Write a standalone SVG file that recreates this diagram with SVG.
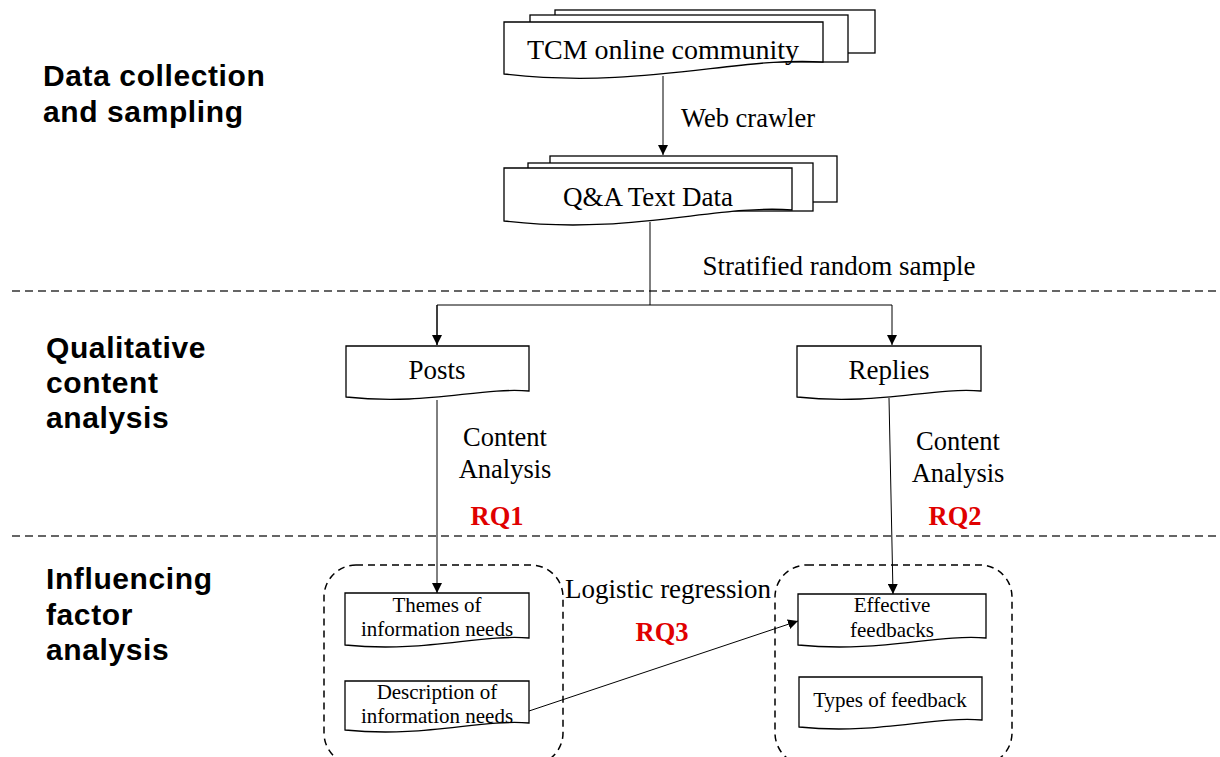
<svg xmlns="http://www.w3.org/2000/svg" width="1220" height="757" viewBox="0 0 1220 757">
<defs>
<marker id="arr" viewBox="0 0 10 10" refX="10" refY="5" markerWidth="10" markerHeight="10" markerUnits="userSpaceOnUse" orient="auto"><path d="M0,0 L10,5 L0,10 Z" fill="#000"/></marker>
<style>
.doc{fill:#fff;stroke:#000;stroke-width:1.3}
.t{font-family:"Liberation Serif",serif;fill:#000;text-anchor:middle}
.sec{font-family:"Liberation Sans",Arial,sans-serif;font-weight:bold;font-size:30px;letter-spacing:0.6px;fill:#000}
.rq{font-family:"Liberation Serif",serif;font-weight:bold;font-size:26.5px;fill:#e00000;text-anchor:middle}
.ln{fill:none;stroke:#000;stroke-width:1}
.dash{fill:none;stroke:#333;stroke-width:1.3;stroke-dasharray:8,5}
.grp{fill:none;stroke:#000;stroke-width:1.5;stroke-dasharray:7,5}
</style>
</defs>
<rect width="1220" height="757" fill="#fff"/>
<g id="separators">
<line class="dash" x1="12" y1="291" x2="1216" y2="291"/>
<line class="dash" x1="12" y1="536" x2="1216" y2="536"/>
</g>
<g id="section-labels">
<text class="sec" x="43" y="86">Data collection</text>
<text class="sec" x="43" y="122">and sampling</text>
<text class="sec" x="46" y="358">Qualitative</text>
<text class="sec" x="46" y="393">content</text>
<text class="sec" x="46" y="428">analysis</text>
<text class="sec" x="46" y="589">Influencing</text>
<text class="sec" x="46" y="625">factor</text>
<text class="sec" x="46" y="660">analysis</text>
</g>
<g id="group-left"><rect class="grp" x="324" y="565" width="239" height="200" rx="32"/></g>
<g id="group-right"><rect class="grp" x="775" y="565" width="237" height="200" rx="32"/></g>
<g id="connectors">
<line class="ln" x1="663" y1="76" x2="663" y2="155" marker-end="url(#arr)"/>
<polyline class="ln" points="650,222 650,305"/>
<polyline class="ln" points="437,345 437,305 892,305 892,345" marker-end="url(#arr)"/>
<line class="ln" x1="437" y1="305" x2="437" y2="345" marker-end="url(#arr)"/>
<line class="ln" x1="437" y1="400" x2="437" y2="593" marker-end="url(#arr)"/>
<line class="ln" x1="889" y1="398" x2="893" y2="594" marker-end="url(#arr)"/>
<line class="ln" x1="529" y1="711" x2="798" y2="621" marker-end="url(#arr)"/>
</g>
<g id="node-tcm">
<rect class="doc" x="555" y="10" width="320" height="43"/>
<rect class="doc" x="530" y="15" width="318" height="47"/>
<path class="doc" d="M504,22 H823 V62 C740,56 640,90 504,74 Z"/>
<text class="t" x="663" y="59" font-size="28">TCM online community</text>
</g>
<g id="node-qa">
<rect class="doc" x="550" y="156" width="287" height="46"/>
<rect class="doc" x="528" y="163" width="285" height="48"/>
<path class="doc" d="M504,168 H792 V210 C717,204 629,236 504,221 Z"/>
<text class="t" x="648" y="206" font-size="27">Q&amp;A Text Data</text>
</g>
<g id="node-posts">
<path class="doc" d="M346,346 H529 V391 C479,387 426,406 346,397 Z"/>
<text class="t" x="437" y="379" font-size="27">Posts</text>
</g>
<g id="node-replies">
<path class="doc" d="M797,346 H981 V391 C931,387 877,406 797,397 Z"/>
<text class="t" x="889" y="379" font-size="27">Replies</text>
</g>
<g id="node-themes">
<path class="doc" d="M345,593 H529 V638 C479,634 425,653 345,645 Z"/>
<text class="t" x="437" y="612" font-size="21">Themes of</text>
<text class="t" x="437" y="636" font-size="21">information needs</text>
</g>
<g id="node-description">
<path class="doc" d="M345,681 H529 V723 C479,719 425,738 345,730 Z"/>
<text class="t" x="437" y="699" font-size="21">Description of</text>
<text class="t" x="437" y="723" font-size="21">information needs</text>
</g>
<g id="node-effective">
<path class="doc" d="M798,594 H986 V638 C935,634 880,653 798,645 Z"/>
<text class="t" x="892" y="612" font-size="21">Effective</text>
<text class="t" x="892" y="637" font-size="21">feedbacks</text>
</g>
<g id="node-types">
<path class="doc" d="M799,677 H982 V720 C932,716 878,735 799,727 Z"/>
<text class="t" x="890" y="707" font-size="21">Types of feedback</text>
</g>
<g id="labels">
<text class="t" x="748" y="127" font-size="26.5">Web crawler</text>
<text class="t" x="839" y="275" font-size="27">Stratified random sample</text>
<text class="t" x="505" y="446" font-size="26.5">Content</text>
<text class="t" x="505" y="478" font-size="26.5">Analysis</text>
<text class="rq" x="497" y="525">RQ1</text>
<text class="t" x="958" y="450" font-size="26.5">Content</text>
<text class="t" x="958" y="482" font-size="26.5">Analysis</text>
<text class="rq" x="955" y="525">RQ2</text>
<text class="t" x="668" y="598" font-size="27">Logistic regression</text>
<text class="rq" x="662" y="641">RQ3</text>
</g>
</svg>
